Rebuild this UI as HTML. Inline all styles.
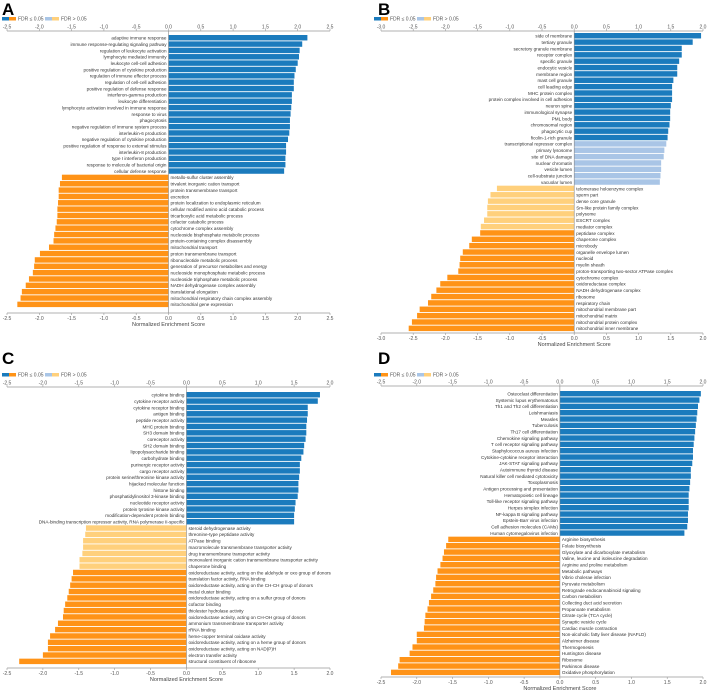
<!DOCTYPE html>
<html><head><meta charset="utf-8"><style>
html,body{margin:0;padding:0;background:#fff;}
svg{display:block;font-family:"Liberation Sans",sans-serif;}
</style></head><body>
<svg id="fig" width="708" height="692" viewBox="0 0 708 692" xmlns="http://www.w3.org/2000/svg"></svg>
<script>
const tickStep = 0.5;
// Panel A
const aLabels = ["adaptive immune response","immune response-regulating signaling pathway","regulation of leukocyte activation","lymphocyte mediated immunity","leukocyte cell-cell adhesion","positive regulation of cytokine production","regulation of immune effector process","regulation of cell-cell adhesion","positive regulation of defense response","interferon-gamma production","leukocyte differentiation","lymphocyte activation involved in immune response","response to virus","phagocytosis","negative regulation of immune system process","interleukin-6 production","negative regulation of cytokine production","positive regulation of response to external stimulus","interleukin-8 production","type I interferon production","response to molecule of bacterial origin","cellular defense response","metallo-sulfur cluster assembly","trivalent inorganic cation transport","protein transmembrane transport","excretion","protein localization to endoplasmic reticulum","cellular modified amino acid catabolic process","tricarboxylic acid metabolic process","cofactor catabolic process","cytochrome complex assembly","nucleoside bisphosphate metabolic process","protein-containing complex disassembly","mitochondrial transport","proton transmembrane transport","ribonucleotide metabolic process","generation of precursor metabolites and energy","nucleoside monophosphate metabolic process","nucleoside triphosphate metabolic process","NADH dehydrogenase complex assembly","translational elongation","mitochondrial respiratory chain complex assembly","mitochondrial gene expression"];
const aValues = [2.15,2.07,2.03,2.02,2.0,1.97,1.95,1.94,1.94,1.91,1.91,1.9,1.89,1.88,1.88,1.87,1.85,1.82,1.82,1.81,1.81,1.79,-1.65,-1.68,-1.7,-1.7,-1.71,-1.72,-1.72,-1.73,-1.75,-1.77,-1.78,-1.85,-1.99,-2.07,-2.08,-2.1,-2.16,-2.21,-2.27,-2.29,-2.34];
const aSig = [1,1,1,1,1,1,1,1,1,1,1,1,1,1,1,1,1,1,1,1,1,1,1,1,1,1,1,1,1,1,1,1,1,1,1,1,1,1,1,1,1,1,1];
// Panel B
const bLabels = ["side of membrane","tertiary granule","secretory granule membrane","receptor complex","specific granule","endocytic vesicle","membrane region","mast cell granule","cell leading edge","MHC protein complex","protein complex involved in cell adhesion","neuron spine","immunological synapse","PML body","chromosomal region","phagocytic cup","ficolin-1-rich granule","transcriptional repressor complex","primary lysosome","site of DNA damage","nuclear chromatin","vesicle lumen","cell-substrate junction","vacuolar lumen","telomerase holoenzyme complex","sperm part","dense core granule","Sm-like protein family complex","polysome","ESCRT complex","mediator complex","peptidase complex","chaperone complex","microbody","organelle envelope lumen","nucleoid","myelin sheath","proton-transporting two-sector ATPase complex","cytochrome complex","oxidoreductase complex","NADH dehydrogenase complex","ribosome","respiratory chain","mitochondrial membrane part","mitochondrial matrix","mitochondrial protein complex","mitochondrial inner membrane"];
const bValues = [1.97,1.84,1.67,1.67,1.63,1.6,1.6,1.54,1.52,1.52,1.52,1.5,1.49,1.49,1.48,1.46,1.45,1.43,1.4,1.39,1.35,1.35,1.34,1.33,-1.2,-1.3,-1.34,-1.35,-1.35,-1.4,-1.45,-1.46,-1.59,-1.63,-1.73,-1.77,-1.78,-1.8,-1.97,-2.08,-2.14,-2.22,-2.27,-2.4,-2.44,-2.52,-2.57];
const bSig = [1,1,1,1,1,1,1,1,1,1,1,1,1,1,1,1,1,0,0,0,0,0,0,0,0,0,0,0,0,0,0,1,1,1,1,1,1,1,1,1,1,1,1,1,1,1,1];
// Panel C
const cLabels = ["cytokine binding","cytokine receptor activity","cytokine receptor binding","antigen binding","peptide receptor activity","MHC protein binding","SH3 domain binding","coreceptor activity","SH2 domain binding","lipopolysaccharide binding","carbohydrate binding","purinergic receptor activity","cargo receptor activity","protein serine/threonine kinase activity","hijacked molecular function","histone binding","phosphatidylinositol 3-kinase binding","nucleotide receptor activity","protein tyrosine kinase activity","modification-dependent protein binding","DNA-binding transcription repressor activity, RNA polymerase II-specific","steroid dehydrogenase activity","threonine-type peptidase activity","ATPase binding","macromolecule transmembrane transporter activity","drug transmembrane transporter activity","monovalent inorganic cation transmembrane transporter activity","chaperone binding","oxidoreductase activity, acting on the aldehyde or oxo group of donors","translation factor activity, RNA binding","oxidoreductase activity, acting on the CH-CH group of donors","metal cluster binding","oxidoreductase activity, acting on a sulfur group of donors","cofactor binding","thiolester hydrolase activity","oxidoreductase activity, acting on CH-OH group of donors","ammonium transmembrane transporter activity","rRNA binding","heme-copper terminal oxidase activity","oxidoreductase activity, acting on a heme group of donors","oxidoreductase activity, acting on NAD(P)H","electron transfer activity","structural constituent of ribosome"];
const cValues = [1.86,1.83,1.69,1.69,1.68,1.67,1.67,1.66,1.64,1.63,1.6,1.58,1.58,1.57,1.56,1.56,1.55,1.52,1.51,1.5,1.5,-1.4,-1.41,-1.44,-1.44,-1.45,-1.49,-1.49,-1.58,-1.6,-1.62,-1.64,-1.66,-1.69,-1.71,-1.72,-1.79,-1.83,-1.9,-1.93,-1.93,-2.0,-2.33];
const cSig = [1,1,1,1,1,1,1,1,1,1,1,1,1,1,1,1,1,1,1,1,1,0,0,0,0,0,0,0,1,1,1,1,1,1,1,1,1,1,1,1,1,1,1];
// Panel D
const dLabels = ["Osteoclast differentiation","Systemic lupus erythematosus","Th1 and Th2 cell differentiation","Leishmaniasis","Measles","Tuberculosis","Th17 cell differentiation","Chemokine signaling pathway","T cell receptor signaling pathway","Staphylococcus aureus infection","Cytokine-cytokine receptor interaction","JAK-STAT signaling pathway","Autoimmune thyroid disease","Natural killer cell mediated cytotoxicity","Toxoplasmosis","Antigen processing and presentation","Hematopoietic cell lineage","Toll-like receptor signaling pathway","Herpes simplex infection","NF-kappa B signaling pathway","Epstein-Barr virus infection","Cell adhesion molecules (CAMs)","Human cytomegalovirus infection","Arginine biosynthesis","Folate biosynthesis","Glyoxylate and dicarboxylate metabolism","Valine, leucine and isoleucine degradation","Arginine and proline metabolism","Metabolic pathways","Vibrio cholerae infection","Pyruvate metabolism","Retrograde endocannabinoid signaling","Carbon metabolism","Collecting duct acid secretion","Propanoate metabolism","Citrate cycle (TCA cycle)","Synaptic vesicle cycle","Cardiac muscle contraction","Non-alcoholic fatty liver disease (NAFLD)","Alzheimer disease","Thermogenesis","Huntington disease","Ribosome","Parkinson disease","Oxidative phosphorylation"];
const dValues = [1.97,1.95,1.93,1.92,1.91,1.9,1.89,1.88,1.87,1.86,1.86,1.85,1.83,1.83,1.82,1.81,1.8,1.8,1.8,1.79,1.79,1.78,1.74,-1.56,-1.59,-1.62,-1.64,-1.67,-1.71,-1.73,-1.74,-1.77,-1.8,-1.83,-1.85,-1.88,-1.89,-1.9,-2.0,-2.0,-2.06,-2.1,-2.24,-2.26,-2.36];
const dSig = [1,1,1,1,1,1,1,1,1,1,1,1,1,1,1,1,1,1,1,1,1,1,1,1,1,1,1,1,1,1,1,1,1,1,1,1,1,1,1,1,1,1,1,1,1];

const NS = "http://www.w3.org/2000/svg";
const svg = document.getElementById('fig');
function mk(tag, attrs, parent){const e=document.createElementNS(NS,tag);for(const k in attrs)e.setAttribute(k,attrs[k]);(parent||svg).appendChild(e);return e;}
const COL = {pos1:"#1b7bbd",pos0:"#a9c5e6",neg1:"#ff9317",neg0:"#ffd07c"};

function panel(p){
  const g = mk('g',{});
  
  
  const sx = v => p.x0 + (v - p.min)/(p.max - p.min)*(p.x1 - p.x0);
  const t = mk('text',{x:p.lx,y:p.ly,'font-size':17,'font-weight':'bold',fill:'#000'},g);
  t.textContent = p.id;
  
  
  const lg = mk('g',{},g);
  
  
  const ly = p.legY;
  mk('rect',{x:p.legX,y:ly-2,width:7,height:3.5,fill:COL.pos1},lg);
  mk('rect',{x:p.legX+7,y:ly-2,width:7,height:3.5,fill:COL.neg1},lg);
  const l1 = mk('text',{x:p.legX+16,y:ly+1.5,'font-size':5,fill:'#555'},lg); l1.textContent="FDR \u2264 0.05";
  mk('rect',{x:p.legX+43,y:ly-2,width:7,height:3.5,fill:COL.pos0},lg);
  mk('rect',{x:p.legX+50,y:ly-2,width:7,height:3.5,fill:COL.neg0},lg);
  const l2 = mk('text',{x:p.legX+59,y:ly+1.5,'font-size':5,fill:'#555'},lg); l2.textContent="FDR > 0.05";
  [[p.topY,-1],[p.botY,1]].forEach(([ay,dir])=>{
    const ax = mk('g',{},g);
    
    
    mk('line',{x1:p.x0,x2:p.x1,y1:ay,y2:ay,stroke:'#999','stroke-width':0.8},ax);
    const n = Math.round((p.max-p.min)/tickStep);
    for(let i=0;i<=n;i++){
      const v = p.min + i*tickStep, x = sx(v);
      mk('line',{x1:x,x2:x,y1:ay,y2:ay+dir*2,stroke:'#999','stroke-width':0.6},ax);
      const tt = mk('text',{x:x,y:dir<0?ay-2.5:ay+7,'font-size':5,'text-anchor':'middle',fill:'#555'},ax);
      tt.textContent = v.toFixed(1);
    }
  });
  const tl = mk('text',{x:sx(0),y:p.botY+13,'font-size':5.5,'text-anchor':'middle',fill:'#444'},g);
  tl.textContent = "Normalized Enrichment Score";
  
  
  const n = p.values.length, pitch = (p.barBot - p.barTop)/n;
  const x0 = sx(0);
  p.values.forEach((v,i)=>{
    const y = p.barTop + i*pitch;
    const xv = sx(v);
    const sig = p.sig[i];
    const fill = v>=0 ? (sig?COL.pos1:COL.pos0) : (sig?COL.neg1:COL.neg0);
    const r = mk('rect',{x:Math.min(x0,xv),y:y,width:Math.abs(xv-x0),height:pitch-0.9,fill:fill},g);
    
    
    const lt = mk('text',{x:v>=0?x0-2:x0+2,y:y+pitch*0.72,'font-size':4.6,'text-anchor':v>=0?'end':'start',fill:'#333'},g);
    lt.textContent = p.labels[i];
    
    
  });
  mk('line',{x1:x0,x2:x0,y1:p.topY,y2:p.botY,stroke:'#888','stroke-width':0.6},g);
}
panel({id:'A',labels:aLabels,values:aValues,sig:aSig,min:-2.5,max:2.5,x0:7,x1:330,topY:31,barTop:35,barBot:308,botY:313,lx:2,ly:15,legX:2,legY:19});
panel({id:'B',labels:bLabels,values:bValues,sig:bSig,min:-3,max:2,x0:381,x1:703,topY:31,barTop:33,barBot:332,botY:333,lx:378,ly:15,legX:374,legY:19});
panel({id:'C',labels:cLabels,values:cValues,sig:cSig,min:-2.5,max:2,x0:7,x1:330,topY:387,barTop:392,barBot:665,botY:668,lx:2,ly:364,legX:2,legY:375});
panel({id:'D',labels:dLabels,values:dValues,sig:dSig,min:-2.5,max:2,x0:381,x1:703,topY:386,barTop:391,barBot:676,botY:677,lx:378,ly:364,legX:374,legY:375});
</script>
</body></html>
